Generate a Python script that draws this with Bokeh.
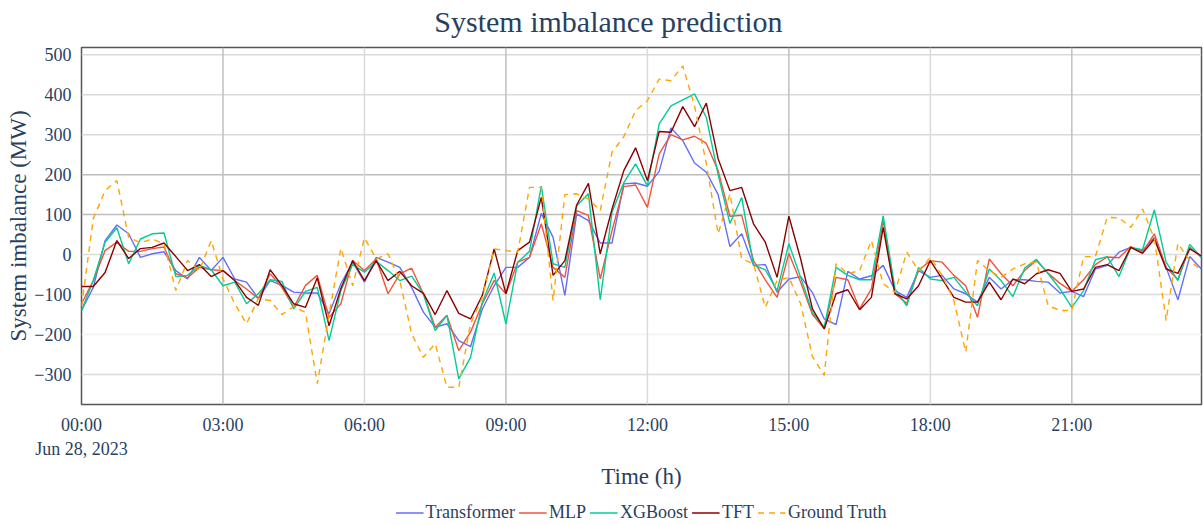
from bokeh.plotting import figure
from bokeh.layouts import column
from bokeh.models import Range1d, FixedTicker, Span, Legend, LegendItem
from bokeh.core.properties import value
from bokeh.embed import file_html
from bokeh.resources import INLINE

# time in hours since 2023-06-28 00:00, 15-minute resolution (96 steps)
hours = [i * 0.25 for i in range(96)]

transformer = [-140, -82, 35, 74, 52, -7, 2, 7, -40, -61, -7, -40, -7, -61, -69, -110,
               -65, -77, -94, -96, -96, -148, -73, -19, -69, -7, -19, -32, -82, -144, -182, -173,
               -215, -230, -136, -78, -32, -32, -7, 103, 43, -102, 102, 85, 29, 29, 177, 179,
               171, 208, 317, 285, 229, 206, 150, 20, 52, -27, -25, -94, -61, -55, -95, -161,
               -175, -42, -61, -53, -27, -90, -107, -40, -57, -52, -86, -98, -119, -57, -86, -63,
               -63, -67, -69, -96, -92, -105, -36, -27, 6, 18, 10, 43, -32, -113, -5, -36]
mlp = [-123, -65, 10, 31, 8, 8, 15, 19, -48, -58, -32, -38, -40, -65, -86, -110,
       -48, -82, -132, -77, -52, -157, -123, -15, -40, -11, -98, -48, -34, -98, -182, -152,
       -240, -194, -123, -65, -98, -19, -7, 77, -32, -57, 110, 98, -61, 60, 170, 174,
       118, 252, 300, 287, 296, 278, 210, 96, 98, -15, -63, -107, 3, -69, -150, -185,
       -57, -63, -136, -86, 85, -98, -122, -40, -15, -19, -52, -78, -157, -11, -48, -78,
       -40, -15, -47, -72, -92, -63, -25, -6, -8, 20, 6, 52, -32, -63, 18, -7]
xgboost = [-140, -65, 31, 67, -23, 39, 52, 54, -55, -52, -27, -38, -78, -69, -123, -98,
           -63, -67, -136, -92, -82, -215, -90, -25, -44, -17, -40, -65, -54, -98, -190, -152,
           -311, -257, -119, -46, -173, -19, 8, 171, -23, -32, 122, 152, -113, 106, 180, 227,
           172, 327, 372, 387, 402, 343, 200, 78, 143, -26, -38, -90, 27, -57, -145, -182,
           -32, -52, -63, -63, 97, -86, -128, -32, -61, -65, -57, -94, -128, -36, -65, -105,
           -34, -12, -48, -86, -132, -90, -13, -5, -55, 18, 12, 112, -19, -65, 25, -7]
tft = [-80, -80, -45, 35, -10, 15, 18, 29, -5, -40, -25, -55, -40, -65, -107, -127,
       -38, -77, -123, -132, -58, -178, -85, -15, -65, -15, -65, -42, -78, -97, -150, -90,
       -147, -161, -102, 14, -98, 10, 31, 143, -52, -15, 124, 178, 2, 114, 210, 267,
       185, 308, 306, 370, 320, 379, 240, 160, 168, 77, 31, -57, 96, -11, -136, -186,
       -98, -88, -138, -107, 68, -98, -111, -78, -15, -61, -107, -119, -119, -69, -113, -61,
       -73, -48, -38, -47, -92, -86, -32, -25, -40, 18, 3, 39, -36, -47, 14, -3]
ground_truth = [-130, 90, 160, 185, 43, 30, 39, 27, -90, -15, -40, 35, -61, -123, -173, -110,
                -115, -150, -130, -145, -323, -150, 16, -78, 42, -11, 2, -65, -198, -257, -223, -332,
                -332, -173, -107, 14, 10, 6, 168, 168, -115, 150, 152, 139, 110, 256, 295, 360,
                385, 439, 435, 472, 372, 227, 52, 152, -11, -23, -132, -65, -57, -123, -255, -302,
                -23, -48, -40, 35, -73, -94, 6, -40, -7, -52, -115, -244, -15, -40, -57, -36,
                -23, -19, -128, -140, -140, -5, -5, 93, 92, 68, 114, 40, -165, 28, -15, -40]

series_names = ["Transformer", "MLP", "XGBoost", "TFT", "Ground Truth"]
series_values = [transformer, mlp, xgboost, tft, ground_truth]
series_colors = ["#636efa", "#EF553B", "#00cc96", "#8B0000", "#FFA500"]
series_dash = ["solid", "solid", "solid", "solid", "6 5"]

x_tick_hours = [0, 3, 6, 9, 12, 15, 18, 21]
x_tick_labels = ["00:00\nJun 28, 2023", "03:00", "06:00", "09:00", "12:00", "15:00", "18:00", "21:00"]
y_ticks = [-300, -200, -100, 0, 100, 200, 300, 400, 500]
title_text = "System imbalance prediction"

FONT = "Liberation Serif"
TXT = "#2a3f5f"

# title strip
t = figure(width=1203, height=45, output_backend="svg", toolbar_location=None,
           x_range=Range1d(0, 1203), y_range=Range1d(0, 45),
           min_border_left=0, min_border_right=0, min_border_top=0, min_border_bottom=0)
t.axis.visible = False
t.grid.visible = False
t.outline_line_color = None
t.text(x=[379], y=[24], text=[title_text], text_font=value(FONT), text_font_size="30px",
       text_color=TXT, text_baseline="middle", text_align="left")

p = figure(width=1203, height=450, output_backend="svg", toolbar_location=None,
           x_range=Range1d(0, 23.75), y_range=Range1d(-375, 518),
           min_border_left=81, min_border_right=2, min_border_top=2, min_border_bottom=91)
p.title = None
p.background_fill_color = "white"
p.border_fill_color = "white"
p.outline_line_color = "#555555"
p.outline_line_width = 1.5

p.xgrid.visible = False
p.ygrid.visible = False

dark_h = {100, 200}
for v in y_ticks:
    col = "#bdbdbd" if v in dark_h else ("#f2f2f2" if v == -200 else "#dadada")
    p.add_layout(Span(location=v, dimension="width", line_color=col, line_width=1.5, level="underlay"))
for h in x_tick_hours[1:]:
    col = "#c0c0c0" if h in (3, 9, 15, 21) else "#dadada"
    p.add_layout(Span(location=h, dimension="height", line_color=col, line_width=1.5, level="underlay"))

for vals, col, dash in zip(series_values, series_colors, series_dash):
    p.line(hours, vals, line_color=col, line_width=1.4, line_dash=dash)

for ax in (p.xaxis[0], p.yaxis[0]):
    ax.axis_line_color = None
    ax.major_tick_line_color = None
    ax.minor_tick_line_color = None
    ax.major_label_text_font = FONT
    ax.major_label_text_font_size = "18px"
    ax.major_label_text_color = TXT
    ax.axis_label_text_font = FONT
    ax.axis_label_text_font_size = "23px"
    ax.axis_label_text_font_style = "normal"
    ax.axis_label_text_color = TXT

p.xaxis.ticker = FixedTicker(ticks=x_tick_hours)
p.xaxis.major_label_overrides = {h: lab for h, lab in zip(x_tick_hours, x_tick_labels)}
p.xaxis.axis_label = "Time (h)"
p.xaxis.major_label_standoff = 4
p.xaxis.axis_label_standoff = 2

p.yaxis.ticker = FixedTicker(ticks=y_ticks)
p.yaxis.major_label_overrides = {v: str(v).replace("-", "\u2212") for v in y_ticks}
p.yaxis.axis_label = "System imbalance (MW)"
p.yaxis.major_label_standoff = 4
p.yaxis.axis_label_standoff = 0

# legend strip below the chart
q = figure(width=1203, height=30, output_backend="svg", toolbar_location=None,
           x_range=Range1d(0, 1), y_range=Range1d(0, 1),
           min_border_left=81, min_border_right=2, min_border_top=4, min_border_bottom=0)
q.axis.visible = False
q.grid.visible = False
q.outline_line_color = None
q.background_fill_color = "white"
q.border_fill_color = "white"
items = []
for name, col, dash in zip(series_names, series_colors, series_dash):
    r = q.line([-10, -9], [-10, -9], line_color=col, line_width=1.4, line_dash=dash)
    items.append(LegendItem(label=name, renderers=[r]))
legend = Legend(items=items, orientation="horizontal", location="center",
                label_text_font=FONT, label_text_font_size="18px", label_text_color=TXT,
                glyph_width=28, glyph_height=16, label_standoff=2, spacing=4,
                padding=0, margin=0, border_line_color=None, background_fill_alpha=0)
q.add_layout(legend, "center")

layout = column(t, p, q, spacing=0)
open("out.html", "w").write(file_html(layout, INLINE))
